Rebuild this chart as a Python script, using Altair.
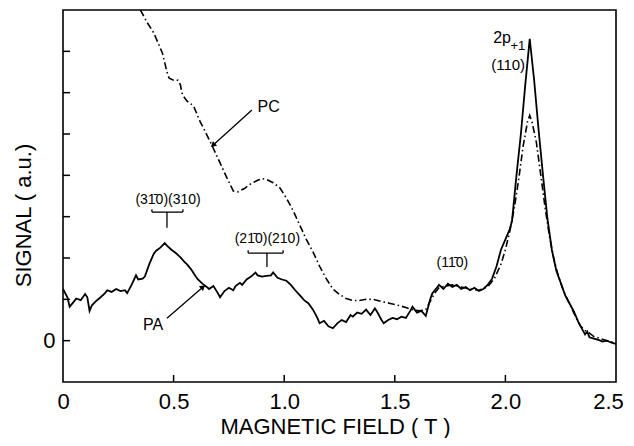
import altair as alt
import pandas as pd

# ---------------- data ----------------
pa_field = [0.00, 0.02, 0.03, 0.05, 0.06, 0.08, 0.10, 0.11, 0.12, 0.13, 0.15, 0.17, 0.19, 0.20,
            0.22, 0.24, 0.26, 0.28, 0.29, 0.31, 0.33, 0.34, 0.36, 0.37, 0.39, 0.41, 0.42, 0.44,
            0.46, 0.47, 0.49, 0.51, 0.53, 0.55, 0.56, 0.58, 0.60, 0.61, 0.63, 0.65, 0.66, 0.68,
            0.70, 0.71, 0.73, 0.75, 0.77, 0.78, 0.80, 0.81, 0.83, 0.85, 0.87, 0.88, 0.90, 0.92,
            0.94, 0.95, 0.97, 0.99, 1.01, 1.03, 1.05, 1.07, 1.09, 1.11, 1.13, 1.15, 1.16, 1.18,
            1.20, 1.22, 1.24, 1.26, 1.28, 1.30, 1.31, 1.33, 1.35, 1.37, 1.39, 1.41, 1.42, 1.44,
            1.45, 1.47, 1.49, 1.51, 1.53, 1.55, 1.57, 1.58, 1.60, 1.62, 1.64, 1.66, 1.67, 1.69,
            1.70, 1.72, 1.74, 1.76, 1.78, 1.80, 1.82, 1.84, 1.86, 1.88, 1.90, 1.92, 1.94, 1.96,
            1.98, 2.00, 2.02, 2.03, 2.05, 2.07, 2.09, 2.11, 2.13, 2.15, 2.17, 2.19, 2.21, 2.23,
            2.25, 2.27, 2.29, 2.31, 2.33, 2.35, 2.36, 2.37, 2.38, 2.40, 2.42, 2.44, 2.46, 2.48,
            2.50]
pa_signal = [1.25, 1.05, 0.82, 0.95, 1.02, 0.98, 1.13, 1.05, 0.72, 0.85, 0.96, 1.05, 1.15, 1.22,
             1.18, 1.25, 1.20, 1.22, 1.15, 1.35, 1.58, 1.48, 1.50, 1.55, 1.85, 2.10, 2.17, 2.25,
             2.36, 2.30, 2.20, 2.12, 2.02, 1.90, 1.85, 1.72, 1.55, 1.48, 1.38, 1.30, 1.25, 1.32,
             1.15, 1.05, 1.20, 1.28, 1.22, 1.32, 1.40, 1.35, 1.48, 1.55, 1.65, 1.58, 1.55, 1.57,
             1.58, 1.65, 1.52, 1.48, 1.45, 1.35, 1.22, 1.10, 0.98, 0.90, 0.75, 0.55, 0.42, 0.48,
             0.35, 0.30, 0.42, 0.50, 0.45, 0.62, 0.58, 0.68, 0.65, 0.75, 0.62, 0.78, 0.70, 0.50,
             0.42, 0.50, 0.55, 0.52, 0.58, 0.55, 0.72, 0.82, 0.68, 0.72, 0.60, 1.00, 1.15, 1.28,
             1.35, 1.25, 1.38, 1.30, 1.35, 1.25, 1.30, 1.22, 1.28, 1.20, 1.25, 1.35, 1.50, 1.80,
             2.20, 2.45, 2.70, 2.90, 4.00, 5.00, 6.20, 7.30, 6.30, 5.10, 4.00, 2.95, 2.20, 1.70,
             1.40, 1.10, 0.90, 0.70, 0.45, 0.25, 0.15, 0.22, 0.08, 0.05, 0.02, -0.02, 0.00, -0.05,
             -0.08]

pc_field = [0.35, 0.38, 0.41, 0.43, 0.45, 0.47, 0.48, 0.50, 0.52, 0.53, 0.54, 0.56, 0.59, 0.62,
            0.65, 0.68, 0.71, 0.74, 0.77, 0.79, 0.82, 0.85, 0.88, 0.90, 0.92, 0.95, 0.98, 1.01,
            1.04, 1.07, 1.10, 1.13, 1.16, 1.19, 1.22, 1.25, 1.28, 1.31, 1.34, 1.37, 1.40, 1.44,
            1.48, 1.52, 1.55, 1.58, 1.61, 1.64, 1.66, 1.68, 1.70, 1.73, 1.76, 1.80, 1.84, 1.88,
            1.92, 1.95, 1.98, 2.00, 2.02, 2.04, 2.06, 2.08, 2.10, 2.11, 2.12, 2.14, 2.16, 2.18,
            2.20, 2.22, 2.24, 2.26, 2.28, 2.30, 2.32, 2.34, 2.36, 2.38, 2.40, 2.43, 2.46, 2.50]
pc_signal = [8.00, 7.70, 7.45, 7.20, 6.95, 6.50, 6.35, 6.30, 6.30, 6.20, 5.95, 5.80, 5.68, 5.30,
             4.98, 4.65, 4.30, 3.95, 3.62, 3.60, 3.68, 3.80, 3.88, 3.92, 3.90, 3.82, 3.70, 3.45,
             3.15, 2.80, 2.45, 2.15, 1.80, 1.50, 1.25, 1.12, 1.02, 0.97, 0.97, 1.00, 1.00, 0.95,
             0.90, 0.85, 0.80, 0.75, 0.72, 0.75, 0.95, 1.15, 1.28, 1.32, 1.35, 1.30, 1.25, 1.22,
             1.30, 1.50, 1.85, 2.20, 2.65, 3.20, 3.90, 4.70, 5.30, 5.45, 5.30, 4.80, 4.00, 3.20,
             2.50, 1.95, 1.55, 1.25, 1.00, 0.78, 0.55, 0.35, 0.25, 0.18, 0.10, 0.05, 0.00, -0.06]

x_tick_values = [0, 0.5, 1.0, 1.5, 2.0, 2.5]
x_inner_ticks = [0.5, 1.0, 1.5, 2.0]
y_tick_values = [0, 1, 2, 3, 4, 5, 6, 7]

# annotation texts (position in data units)
label_text = ["(31\u03040)(310)", "(21\u03040)(210)", "(11\u03040)", "(110)", "PC", "PA"]
label_x = [0.475, 0.924, 1.76, 2.089, 0.93, 0.407]
label_y = [3.40, 2.46, 1.88, 6.67, 5.65, 0.38]
label_align = ["center", "center", "center", "right", "center", "center"]
label_size = [14, 14, 14, 15, 16, 16]

# brackets: horizontal, end-ticks, stems
br_x1 = [0.402, 0.837]
br_x2 = [0.542, 0.995]
br_y = [3.11, 2.12]
br_top = [3.18, 2.19]
br_stem_x = [0.47, 0.922]
br_stem_y2 = [2.73, 1.78]

# arrows
ar_name = ["PC", "PA"]
ar_x1 = [0.854, 0.47]
ar_y1 = [5.58, 0.54]
ar_x2 = [0.678, 0.633]
ar_y2 = [4.73, 1.30]
ar_angle = [228, 49]

FONT = "Liberation Sans"
XDOM = [0, 2.5]
YDOM = [-1, 8]

xs = alt.Scale(domain=XDOM, nice=False, zero=False)
ys = alt.Scale(domain=YDOM, nice=False, zero=False)

pa = pd.DataFrame({"field": pa_field, "signal": pa_signal})
pc = pd.DataFrame({"field": pc_field, "signal": pc_signal})

x_axis = alt.Axis(values=x_tick_values, title="MAGNETIC FIELD ( T )",
                  labelExpr="datum.value == 0 ? '0' : format(datum.value, '.1f')",
                  labelOffset={"expr": "datum.value == 2.5 ? -8 : 0"},
                  tickSize=0, domain=False, grid=False, labelFont=FONT, labelFontSize=22,
                  labelColor="black", labelPadding=9, labelFlush=False, labelBound=False,
                  titleFont=FONT, titleFontSize=22, titleFontWeight="normal", titleColor="black",
                  titleX=272, titleY=44, titleBaseline="middle")
y_axis = alt.Axis(values=y_tick_values, title="SIGNAL ( a.u.)",
                  labelExpr="datum.value == 0 ? '0' : ''",
                  tickSize=0, domain=False, grid=False, labelFont=FONT, labelFontSize=22,
                  labelColor="black", labelPadding=8,
                  titleFont=FONT, titleFontSize=22, titleFontWeight="normal", titleColor="black",
                  titleX=-40, titleY=205, titleBaseline="middle", titleAlign="center")

pa_line = alt.Chart(pa).mark_line(color="black", strokeWidth=1.8, clip=True).encode(
    x=alt.X("field:Q", scale=xs, axis=x_axis),
    y=alt.Y("signal:Q", scale=ys, axis=y_axis),
    order="field:Q")
pc_line = alt.Chart(pc).mark_line(color="black", strokeWidth=1.6, strokeDash=[7, 3, 1.5, 3],
                                  clip=True).encode(
    x=alt.X("field:Q", scale=xs), y=alt.Y("signal:Q", scale=ys), order="field:Q")

# inward ticks
xt = alt.Chart(pd.DataFrame({"v": x_inner_ticks})).mark_rule(color="black", strokeWidth=1.5).encode(
    x=alt.X("v:Q", scale=xs), y=alt.value(372), y2=alt.value(365))
yt = alt.Chart(pd.DataFrame({"v": y_tick_values})).mark_rule(color="black", strokeWidth=1.5).encode(
    y=alt.Y("v:Q", scale=ys), x=alt.value(0), x2=alt.value(7))

lab = pd.DataFrame({"t": label_text, "x": label_x, "y": label_y, "a": label_align, "s": label_size})
texts = []
for al in ["center", "right"]:
    texts.append(alt.Chart(lab[lab.a == al]).mark_text(font=FONT, align=al, baseline="middle",
                                                        color="black").encode(
        x=alt.X("x:Q", scale=xs), y=alt.Y("y:Q", scale=ys), text="t:N",
        size=alt.Size("s:Q", scale=None)))

sub = pd.DataFrame({"t": ["2p", "+1"], "x": [2.025, 2.023], "y": [7.32, 7.12],
                    "s": [16, 13], "a": ["right", "left"]})
sub_marks = [alt.Chart(sub[sub.a == al]).mark_text(font=FONT, align=al, baseline="middle",
                                                   color="black").encode(
    x=alt.X("x:Q", scale=xs), y=alt.Y("y:Q", scale=ys), text="t:N",
    size=alt.Size("s:Q", scale=None)) for al in ["right", "left"]]

br = pd.DataFrame({"x1": br_x1, "x2": br_x2, "y": br_y, "top": br_top,
                   "sx": br_stem_x, "sy2": br_stem_y2})
br_h = alt.Chart(br).mark_rule(color="black", strokeWidth=1.3).encode(
    x=alt.X("x1:Q", scale=xs), x2="x2:Q", y=alt.Y("y:Q", scale=ys))
br_l = alt.Chart(br).mark_rule(color="black", strokeWidth=1.3).encode(
    x=alt.X("x1:Q", scale=xs), y=alt.Y("y:Q", scale=ys), y2="top:Q")
br_r = alt.Chart(br).mark_rule(color="black", strokeWidth=1.3).encode(
    x=alt.X("x2:Q", scale=xs), y=alt.Y("y:Q", scale=ys), y2="top:Q")
br_s = alt.Chart(br).mark_rule(color="black", strokeWidth=1.3).encode(
    x=alt.X("sx:Q", scale=xs), y=alt.Y("y:Q", scale=ys), y2="sy2:Q")

ar = pd.DataFrame({"n": ar_name, "x1": ar_x1, "y1": ar_y1, "x2": ar_x2, "y2": ar_y2,
                   "ang": ar_angle})
ar_line = alt.Chart(ar).mark_rule(color="black", strokeWidth=1.3).encode(
    x=alt.X("x1:Q", scale=xs), y=alt.Y("y1:Q", scale=ys), x2="x2:Q", y2="y2:Q")
ar_head = alt.Chart(ar).mark_point(shape="triangle-up", filled=True, color="black", size=40,
                                   opacity=1).encode(
    x=alt.X("x2:Q", scale=xs), y=alt.Y("y2:Q", scale=ys), angle=alt.Angle("ang:Q", scale=None))

chart = alt.layer(pa_line, pc_line, xt, yt, *texts, *sub_marks, br_h, br_l, br_r, br_s,
                  ar_line, ar_head).properties(
    width=553, height=372,
    autosize=alt.AutoSizeParams(type="none"),
    padding={"left": 55, "top": 2, "right": 10, "bottom": 56},
    background="white",
).configure_view(stroke="black", strokeWidth=1.6)

chart.save("out.html", embed_options={"renderer": "svg", "actions": False})
